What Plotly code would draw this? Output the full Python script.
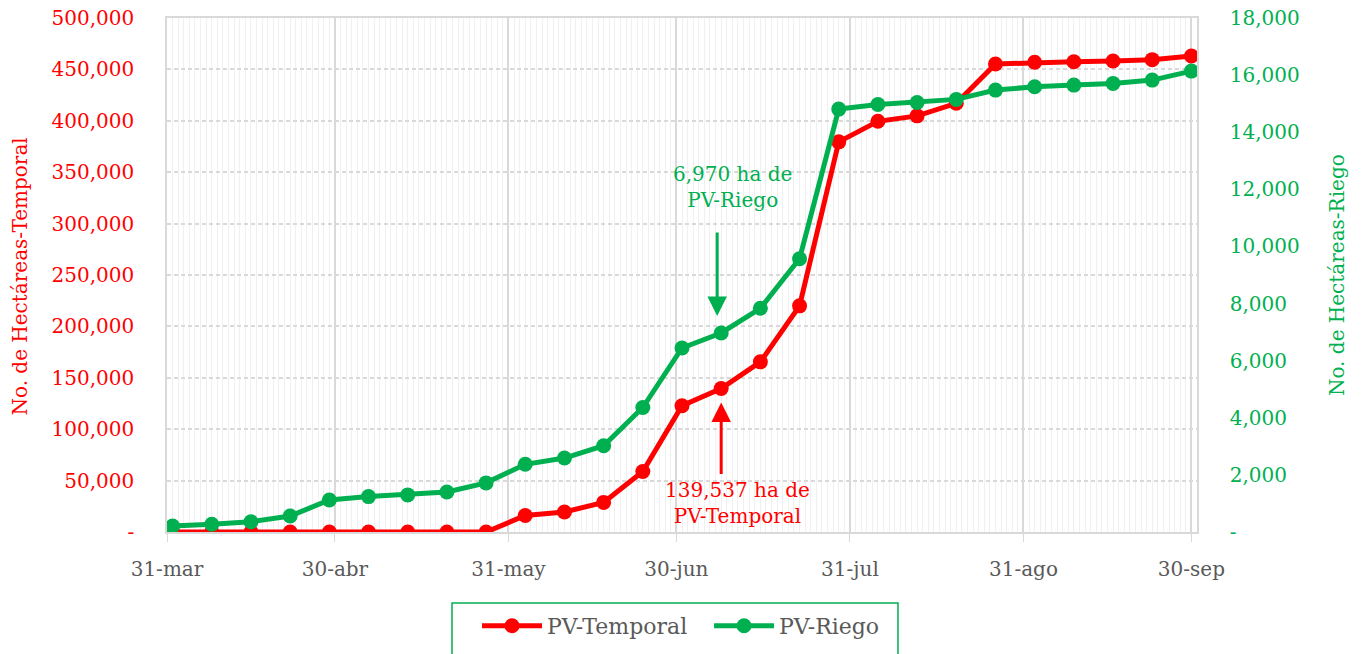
import plotly.graph_objects as go

dates = ["2020-03-31", "2020-04-01", "2020-04-08", "2020-04-15", "2020-04-22", "2020-04-29",
         "2020-05-06", "2020-05-13", "2020-05-20", "2020-05-27", "2020-06-03", "2020-06-10",
         "2020-06-17", "2020-06-24", "2020-07-01", "2020-07-08", "2020-07-15", "2020-07-22",
         "2020-07-29", "2020-08-05", "2020-08-12", "2020-08-19", "2020-08-26", "2020-09-02",
         "2020-09-09", "2020-09-16", "2020-09-23", "2020-09-30"]
pv_temporal = [0, 0, 0, 0, 0, 0, 0, 0, 0, 0, 16000, 19500, 28800, 58800, 122800, 139537,
               165500, 220000, 379500, 399500, 404800, 417000, 455200, 456900, 457500,
               458200, 459500, 463000]
pv_riego = [0, 210, 270, 360, 560, 1120, 1240, 1300, 1400, 1720, 2370, 2590, 3020, 4360,
            6445, 6970, 7836, 9570, 14810, 14970, 15040, 15150, 15475, 15590, 15650,
            15710, 15825, 16140]

x_tickvals = ["2020-03-31", "2020-04-30", "2020-05-31", "2020-06-30", "2020-07-31",
              "2020-08-31", "2020-09-30"]
x_ticktext = ["31-mar", "30-abr", "31-may", "30-jun", "31-jul", "31-ago", "30-sep"]
y1_tickvals = list(range(0, 500001, 50000))
y1_ticktext = ["-"] + [f"{v:,}" for v in y1_tickvals[1:]]
y2_tickvals = list(range(0, 18001, 2000))
y2_ticktext = ["-"] + [f"{v:,}" for v in y2_tickvals[1:]]

RED = "#FF0000"
GREEN = "#00B050"
GREY = "#595959"
FONT = "DejaVu Serif"

fig = go.Figure()
fig.add_trace(go.Scatter(x=dates, y=pv_temporal, name="PV-Temporal", mode="lines+markers",
                         line=dict(color=RED, width=5), marker=dict(color=RED, size=15),
                         yaxis="y"))
fig.add_trace(go.Scatter(x=dates, y=pv_riego, name="PV-Riego", mode="lines+markers",
                         line=dict(color=GREEN, width=5), marker=dict(color=GREEN, size=15),
                         yaxis="y2"))

fig.update_layout(
    width=1361, height=654,
    margin=dict(l=167, r=164, t=18, b=122),
    paper_bgcolor="white", plot_bgcolor="white",
    font=dict(family=FONT, size=20, color=GREY),
    showlegend=True,
    legend=dict(orientation="h", x=0.301, xanchor="left", xref="paper",
                y=0.075, yanchor="top", yref="container",
                borderwidth=0, bgcolor="rgba(0,0,0,0)", font=dict(size=22, color=GREY),
                entrywidth=157, itemwidth=60),
    xaxis=dict(type="date", range=["2020-03-31", "2020-10-01"], automargin=False,
               tickvals=x_tickvals, ticktext=x_ticktext,
               tickfont=dict(size=20, color=GREY),
               showgrid=True, gridcolor="#D9D9D9", gridwidth=1.5,
               ticks="outside", ticklen=8, tickcolor="#D9D9D9",
               ticklabelstandoff=10, ticklabeloverflow="allow",
               showline=True, linecolor="#D9D9D9", linewidth=1.5, mirror=True,
               minor=dict(dtick=86400000, tick0="2020-03-31", showgrid=True,
                          gridcolor="#F0F0F0", gridwidth=1, ticks=""),
               zeroline=False),
    yaxis=dict(range=[0, 500000], tickvals=y1_tickvals, ticktext=y1_ticktext,
               automargin=False, ticklabeloverflow="allow",
               tickfont=dict(size=20, color=RED),
               showgrid=True, gridcolor="#D9D9D9", griddash="4px,3px", gridwidth=1.5,
               ticklabelstandoff=27, zeroline=False,
               showline=True, linecolor="#D9D9D9", linewidth=1.5),
    yaxis2=dict(range=[0, 18000], tickvals=y2_tickvals, ticktext=y2_ticktext,
                overlaying="y", side="right", automargin=False, ticklabeloverflow="allow",
                tickfont=dict(size=20, color=GREEN),
                showgrid=False, zeroline=False, ticklabelstandoff=27,
                showline=True, linecolor="#D9D9D9", linewidth=1.5),
)

# Axis titles
fig.add_annotation(x=-0.1427, y=0.497, xref="paper", yref="paper", textangle=-90,
                   xanchor="center", yanchor="middle", showarrow=False,
                   text="No. de Hectáreas-Temporal", font=dict(size=20, color=RED, family=FONT))
fig.add_annotation(x=1.136, y=0.5, xref="paper", yref="paper", textangle=-90,
                   xanchor="center", yanchor="middle", showarrow=False,
                   text="No. de Hectáreas-Riego", font=dict(size=20, color=GREEN, family=FONT))

# Legend frame
fig.add_shape(type="rect", xref="paper", yref="paper", x0=0.2767, x1=0.7097,
              y0=-0.138, y1=-0.45, line=dict(color=GREEN, width=1.5),
              fillcolor="rgba(0,0,0,0)", layer="below")

# Callout annotations
fig.add_annotation(x="2020-07-10", y=0.671, xref="x", yref="paper", yanchor="middle",
                   text="6,970 ha de<br>PV-Riego", showarrow=False,
                   font=dict(size=20, color=GREEN, family=FONT))
fig.add_annotation(x="2020-07-08", y=6970, xref="x", yref="y2", xshift=-4,
                   text="", showarrow=True, ax=0, ay=-102, standoff=17,
                   arrowhead=2, arrowsize=1.3, arrowwidth=3, arrowcolor=GREEN)
fig.add_annotation(x="2020-07-11", y=0.056, xref="x", yref="paper", yanchor="middle",
                   text="139,537 ha de<br>PV-Temporal", showarrow=False,
                   font=dict(size=20, color=RED, family=FONT))
fig.add_annotation(x="2020-07-08", y=139537, xref="x", yref="y",
                   text="", showarrow=True, ax=0, ay=87, standoff=14,
                   arrowhead=2, arrowsize=1.3, arrowwidth=3, arrowcolor=RED)

fig.write_html("out.html", config={"displayModeBar": False},
               post_script="document.body.style.margin='0';document.body.style.padding='0';"
                           "document.body.style.overflow='hidden';")
